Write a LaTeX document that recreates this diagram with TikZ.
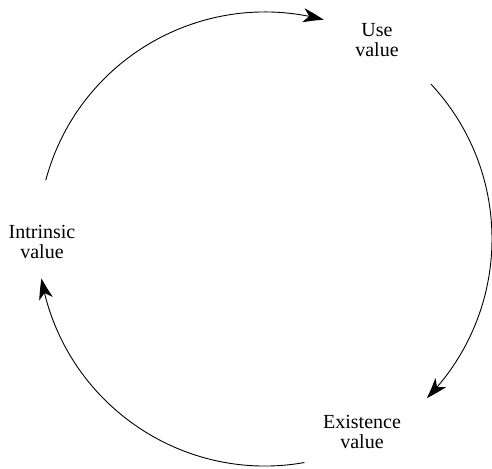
\documentclass[tikz,border=0pt]{standalone}
\usepackage{fontspec}
\setmainfont{Liberation Serif}
\usetikzlibrary{arrows.meta,bending}
\begin{document}
\begin{tikzpicture}[x=1pt,y=1pt,
  lbl/.style={align=center,font=\fontsize{20}{20}\selectfont,inner sep=0pt},
  cyc/.style={line width=0.9pt,-{Stealth[length=21pt,width=14pt,inset=6pt,bend]}}]
\useasboundingbox (0,0) rectangle (492,468);
\coordinate (c) at (265,229);
\node[lbl] (use) at (377,428) {Use\\value};
\node[lbl] (intr) at (42,226) {Intrinsic\\value};
\node[lbl] (exis) at (362,36) {Existence\\value};
\draw[cyc] ([shift={(165:227)}]c) arc[start angle=165,end angle=75,radius=227];
\draw[cyc] ([shift={(43:227)}]c) arc[start angle=43,end angle=-44.5,radius=227];
\draw[cyc] ([shift={(-80:227)}]c) arc[start angle=-80,end angle=-170,radius=227];
\end{tikzpicture}
\end{document}
